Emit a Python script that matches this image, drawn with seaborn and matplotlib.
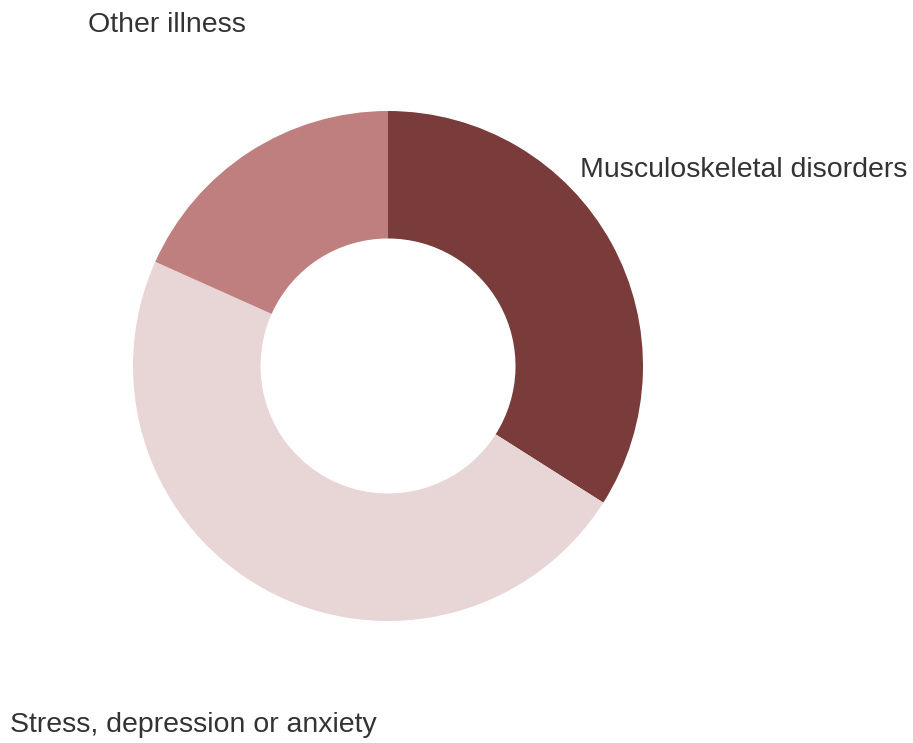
import matplotlib
matplotlib.use("Agg")
import matplotlib.pyplot as plt
import seaborn as sns

categories = ["Musculoskeletal disorders", "Stress, depression or anxiety", "Other illness"]
shares = [34.0, 47.7, 18.3]
colors = ["#7a3b3b", "#e8d5d6", "#bf7f7e"]

sns.set_theme(style="white")
plt.rcParams["font.family"] = ["Liberation Sans", "DejaVu Sans"]

W, H = 913, 743
fig = plt.figure(figsize=(W / 100, H / 100), dpi=100)
ax = fig.add_axes([0, 0, 1, 1])
ax.set_xlim(0, W)
ax.set_ylim(0, H)
ax.set_aspect("equal")
ax.axis("off")

cx, cy, r = 388, H - 366, 255
ax.pie(
    shares,
    colors=colors,
    startangle=90,
    counterclock=False,
    center=(cx, cy),
    radius=r,
    wedgeprops=dict(width=r * 0.5, linewidth=0),
    frame=True,
)
ax.set_xlim(0, W)
ax.set_ylim(0, H)
ax.axis("off")

label_pos = {
    "Other illness": (88, 25),
    "Musculoskeletal disorders": (580, 170),
    "Stress, depression or anxiety": (10, 725),
}
for name, (x, y) in label_pos.items():
    ax.text(x, H - y, name, fontsize=20.5, color="#333333",
            ha="left", va="center")

fig.savefig("out.png", dpi=100)
